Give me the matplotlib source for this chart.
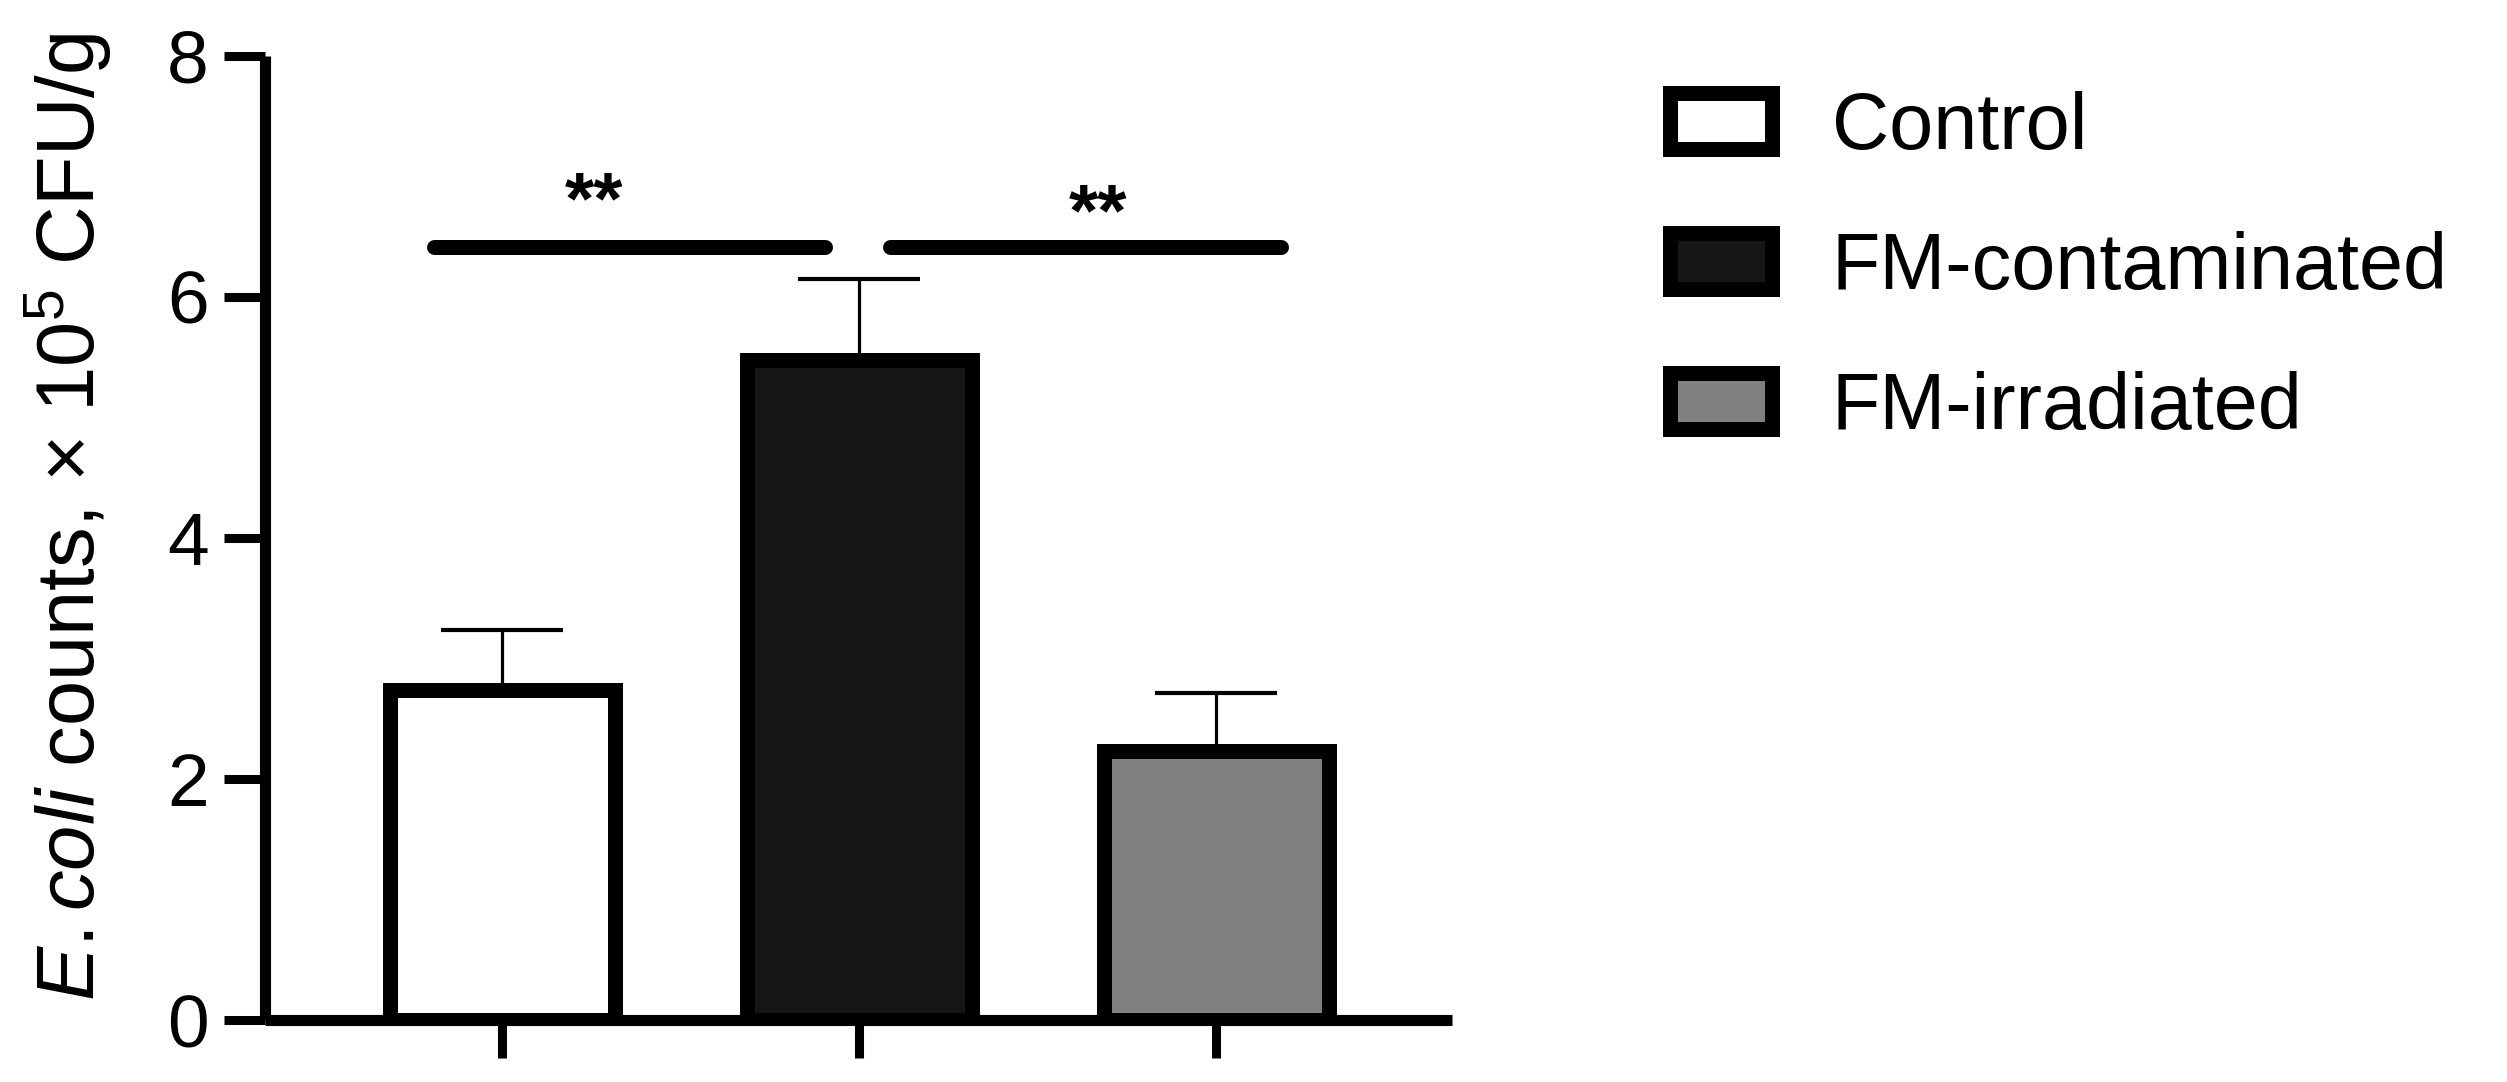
import matplotlib
matplotlib.use('Agg')
import matplotlib.pyplot as plt
import numpy as np

# data
groups = ['Control', 'FM-contaminated', 'FM-irradiated']
means = [2.74, 5.48, 2.23]
sem = [0.50, 0.67, 0.48]
fills = ['#ffffff', '#161616', '#808080']

# significance bars: (x start, x end, y), label and label position
sig_lines = [(-0.19, 0.905, 6.41), (1.085, 2.18, 6.41)]
sig_labels = ['**', '**']
sig_label_pos = [(0.258, 6.61), (1.67, 6.51)]

plt.rcParams['font.family'] = ['Liberation Sans', 'DejaVu Sans']
plt.rcParams['mathtext.fontset'] = 'custom'
plt.rcParams['mathtext.rm'] = 'Liberation Sans'
plt.rcParams['mathtext.it'] = 'Liberation Sans:italic'

fig = plt.figure(figsize=(25.07, 10.82), dpi=100)
ax = fig.add_axes([0.1057, 0.0573, 0.4735, 0.8911])

x = np.arange(len(groups))
bars = ax.bar(x, means, width=0.63, color=fills, edgecolor='black',
              linewidth=10.8, zorder=2)

# upper error bars only
ax.errorbar(x, means, yerr=[np.zeros(len(sem)), sem], fmt='none',
            ecolor='black', elinewidth=2.3, capsize=44, capthick=3,
            zorder=1)

for (x0, x1, y), lab, (tx, ty) in zip(sig_lines, sig_labels, sig_label_pos):
    ax.plot([x0, x1], [y, y], color='black', lw=10.8,
            solid_capstyle='round', zorder=3)
    ax.text(tx, ty, lab, ha='center', va='baseline', fontsize=54,
            fontweight='bold')

ax.set_xlim(-0.664, 2.66)
ax.set_ylim(0, 8)
ax.set_yticks([0, 2, 4, 6, 8])
ax.set_xticks(x)
ax.set_xticklabels([])

for side in ['top', 'right']:
    ax.spines[side].set_visible(False)
for side in ['left', 'bottom']:
    ax.spines[side].set_linewidth(8)
    ax.spines[side].set_capstyle('butt')

ax.tick_params(axis='y', length=29.5, width=6.5, direction='out',
               labelsize=54, pad=11)
ax.tick_params(axis='x', length=27, width=6.5, direction='out')

ax.set_ylabel(r'$\mathit{E.coli}$ counts, × 10$^5$ CFU/g', fontsize=58.5)
ax.yaxis.set_label_coords(-0.127, 0.522)

fig.legend(handles=list(bars), labels=groups, loc='upper left',
           bbox_to_anchor=(0.666, 0.916), frameon=False, fontsize=57,
           handlelength=1.29, handleheight=0.70, handletextpad=0.76,
           labelspacing=0.82, borderpad=0, borderaxespad=0)

fig.savefig('out.png', dpi=100, facecolor='white')
